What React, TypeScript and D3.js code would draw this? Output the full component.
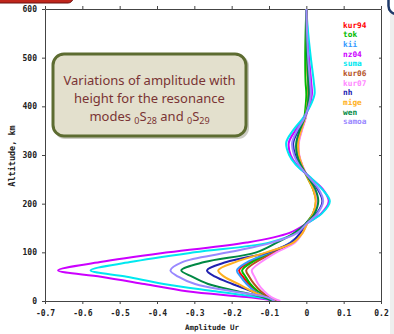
import { useEffect, useRef } from "react";
import * as d3 from "d3";

// altitude (km) of each sample, shared by all stations
const altitudes = [0, 8, 20, 35, 50, 63, 80, 100, 120, 140, 160, 180, 205, 230, 255, 280, 300, 325, 350, 375, 400, 425, 450, 500, 550, 600];

const stations = ["kur94", "tok", "kii", "nz04", "suma", "kur06", "kur07", "nh", "mige", "wen", "samoa"];
const stationColors = ["#ff0000", "#00bb00", "#3399ff", "#cc00ff", "#00e8f0", "#b5531f", "#ff88ff", "#2020b0", "#ffb020", "#008844", "#9988ff"];

// amplitude Ur per station
const kur94 = [-0.078, -0.103, -0.133, -0.155, -0.17, -0.18, -0.152, -0.093, -0.042, -0.014, 0.001, 0.02, 0.028, 0.02, 0.003, -0.013, -0.021, -0.023, -0.014, -0.003, 0.003, 0.007, 0.005, 0.003, 0.001, 0];
const tok = [-0.08, -0.105, -0.13, -0.15, -0.163, -0.172, -0.145, -0.09, -0.04, -0.013, 0.0, 0.018, 0.026, 0.018, 0.002, -0.014, -0.022, -0.024, -0.016, -0.006, -0.002, 0.0, -0.002, -0.003, -0.002, 0];
const kii = [-0.08, -0.107, -0.138, -0.16, -0.176, -0.186, -0.158, -0.097, -0.043, -0.015, 0.002, 0.022, 0.03, 0.022, 0.004, -0.014, -0.022, -0.024, -0.015, -0.003, 0.004, 0.008, 0.006, 0.003, 0.001, 0];
const nz04 = [-0.075, -0.16, -0.32, -0.434, -0.55, -0.665, -0.552, -0.37, -0.16, -0.045, 0.002, 0.04, 0.06, 0.044, 0.008, -0.026, -0.042, -0.047, -0.03, -0.008, 0.008, 0.015, 0.013, 0.007, 0.003, 0];
const suma = [-0.08, -0.13, -0.244, -0.382, -0.481, -0.578, -0.472, -0.3, -0.1, -0.028, 0.003, 0.042, 0.063, 0.042, 0.01, -0.028, -0.046, -0.054, -0.036, -0.01, 0.01, 0.022, 0.02, 0.012, 0.005, 0];
const kur06 = [-0.075, -0.1, -0.122, -0.14, -0.153, -0.161, -0.135, -0.085, -0.035, -0.012, 0.002, 0.019, 0.027, 0.019, 0.003, -0.012, -0.02, -0.021, -0.013, -0.003, 0.003, 0.006, 0.005, 0.002, 0.001, 0];
const kur07 = [-0.07, -0.094, -0.113, -0.129, -0.139, -0.146, -0.121, -0.08, -0.03, -0.01, 0.003, 0.02, 0.028, 0.021, 0.004, -0.011, -0.019, -0.02, -0.012, -0.002, 0.004, 0.008, 0.006, 0.003, 0.001, 0];
const nh = [-0.09, -0.11, -0.147, -0.198, -0.244, -0.266, -0.214, -0.102, -0.04, -0.016, 0.0, 0.028, 0.043, 0.03, 0.005, -0.018, -0.03, -0.035, -0.022, -0.005, 0.005, 0.01, 0.008, 0.004, 0.001, 0];
const mige = [-0.085, -0.11, -0.145, -0.182, -0.22, -0.236, -0.19, -0.107, -0.035, -0.01, 0.003, 0.018, 0.025, 0.018, 0.002, -0.012, -0.02, -0.022, -0.014, -0.004, 0.002, 0.005, 0.004, 0.002, 0.001, 0];
const wen = [-0.09, -0.118, -0.185, -0.263, -0.306, -0.335, -0.273, -0.134, -0.079, -0.032, 0, 0.022, 0.032, 0.024, 0.004, -0.015, -0.025, -0.027, -0.018, -0.005, 0.003, 0.006, 0.005, 0.002, 0.0, 0];
const samoa = [-0.085, -0.107, -0.198, -0.298, -0.343, -0.364, -0.332, -0.209, -0.092, -0.024, 0.002, 0.03, 0.045, 0.033, 0.006, -0.02, -0.033, -0.038, -0.025, -0.006, 0.006, 0.012, 0.01, 0.005, 0.002, 0];

const seriesValues = [kur94, tok, kii, nz04, suma, kur06, kur07, nh, mige, wen, samoa];

const xTicks = [-0.7, -0.6, -0.5, -0.4, -0.3, -0.2, -0.1, 0, 0.1, 0.2];
const yTicks = [0, 100, 200, 300, 400, 500, 600];

const MONO = "'DejaVu Sans Mono', monospace";

export default function App() {
  const svgRef = useRef<SVGSVGElement>(null);

  useEffect(() => {
    if (!svgRef.current) return;
    const width = 394;
    const height = 334;
    const margin = { top: 9, right: 13, bottom: 33, left: 45 };

    const svg = d3.select(svgRef.current);
    svg.selectAll("*").remove();

    // page decorations cut by the frame
    svg.append("rect").attr("width", width).attr("height", height).attr("fill", "#ffffff");
    svg.append("rect").attr("x", 390).attr("y", 12).attr("width", 4).attr("height", 322).attr("fill", "#eeeeee");
    svg
      .append("rect")
      .attr("x", -6)
      .attr("y", -20)
      .attr("width", 79)
      .attr("height", 23)
      .attr("rx", 5)
      .attr("fill", "#c0261c")
      .attr("stroke", "#6b1010")
      .attr("stroke-width", 1);
    svg
      .append("rect")
      .attr("x", 388.5)
      .attr("y", -20)
      .attr("width", 30)
      .attr("height", 34)
      .attr("rx", 8)
      .attr("fill", "#ffffff")
      .attr("stroke", "#1f3a6a")
      .attr("stroke-width", 2.5);

    const x = d3.scaleLinear().domain([-0.7, 0.2]).range([margin.left, width - margin.right]);
    const y = d3.scaleLinear().domain([0, 600]).range([height - margin.bottom, margin.top]);

    const fmt = (d: number) => (d === 0 ? "0" : d.toFixed(1));

    const styleAxis = (g: any) => {
      g.selectAll("path").attr("stroke", "#444").attr("stroke-width", 1);
      g.selectAll("line").attr("stroke", "#444");
      g.selectAll("text")
        .attr("font-family", MONO)
        .attr("font-weight", "bold")
        .attr("font-size", 8)
        .attr("fill", "#222");
    };

    // Bottom axis
    svg
      .append("g")
      .attr("transform", `translate(0,${y(0)})`)
      .call(d3.axisBottom(x).tickValues(xTicks).tickSize(3).tickSizeOuter(0).tickPadding(6).tickFormat(fmt as any))
      .call(styleAxis);

    // Left axis
    svg
      .append("g")
      .attr("transform", `translate(${x(-0.7)},0)`)
      .call(d3.axisLeft(y).tickValues(yTicks).tickSize(3).tickSizeOuter(0).tickPadding(5))
      .call(styleAxis);

    // Top axis, ticks only
    svg
      .append("g")
      .attr("transform", `translate(0,${y(600)})`)
      .call(d3.axisTop(x).tickValues(xTicks).tickSize(3).tickSizeOuter(0).tickFormat(() => ""))
      .call(styleAxis);

    // Right axis, inner ticks only
    svg
      .append("g")
      .attr("transform", `translate(${x(0.2)},0)`)
      .call(d3.axisRight(y).tickValues(yTicks).tickSize(-2).tickSizeOuter(0).tickFormat(() => ""))
      .call(styleAxis);

    // Axis labels
    svg
      .append("text")
      .attr("x", 212)
      .attr("y", 330)
      .attr("text-anchor", "middle")
      .attr("font-family", MONO)
      .attr("font-weight", "bold")
      .attr("font-size", 7.5)
      .attr("fill", "#222")
      .text("Amplitude Ur");

    svg
      .append("text")
      .attr("transform", "translate(15,156) rotate(-90)")
      .attr("text-anchor", "middle")
      .attr("font-family", MONO)
      .attr("font-weight", "bold")
      .attr("font-size", 8.5)
      .attr("fill", "#222")
      .text("Altitude, km");

    // Curves
    svg
      .append("clipPath")
      .attr("id", "plotclip")
      .append("rect")
      .attr("x", margin.left)
      .attr("y", margin.top)
      .attr("width", width - margin.left - margin.right)
      .attr("height", height - margin.top - margin.bottom);

    const line = d3
      .line<number>()
      .x((d) => x(d))
      .y((_, i) => y(altitudes[i]))
      .curve(d3.curveCatmullRom.alpha(0.5));

    const curves = svg.append("g").attr("clip-path", "url(#plotclip)");
    seriesValues.forEach((vals, i) => {
      curves
        .append("path")
        .datum(vals)
        .attr("fill", "none")
        .attr("stroke", stationColors[i])
        .attr("stroke-width", 2)
        .attr("stroke-linejoin", "round")
        .attr("d", line as any);
    });

    // Legend
    stations.forEach((name, i) => {
      svg
        .append("text")
        .attr("x", 343)
        .attr("y", 25 + i * 9.67)
        .attr("dy", "0.35em")
        .attr("font-family", MONO)
        .attr("font-weight", "bold")
        .attr("font-size", 7.8)
        .attr("fill", stationColors[i])
        .text(name);
    });

    // Annotation box
    const note = svg.append("g");
    note
      .append("rect")
      .attr("x", 54)
      .attr("y", 55)
      .attr("width", 195)
      .attr("height", 84)
      .attr("rx", 11)
      .attr("fill", "#9a9a8a")
      .attr("opacity", 0.5);
    note
      .append("rect")
      .attr("x", 53)
      .attr("y", 54)
      .attr("width", 193)
      .attr("height", 82)
      .attr("rx", 11)
      .attr("fill", "#e3e0cd")
      .attr("stroke", "#5d6c31")
      .attr("stroke-width", 3);

    const noteText = (yy: number) =>
      note
        .append("text")
        .attr("x", 149.5)
        .attr("y", yy)
        .attr("text-anchor", "middle")
        .attr("font-family", "'Noto Sans', sans-serif")
        .attr("font-size", 13)
        .attr("fill", "#7a3434");

    noteText(84.5).text("Variations of amplitude with");
    noteText(102.5).text("height for the resonance");
    const l3 = noteText(120.5);
    l3.append("tspan").text("modes ");
    l3.append("tspan").attr("font-size", 9).attr("dy", 3).text("0");
    l3.append("tspan").attr("dy", -3).text("S");
    l3.append("tspan").attr("font-size", 9).attr("dy", 3).text("28");
    l3.append("tspan").attr("dy", -3).text(" and ");
    l3.append("tspan").attr("font-size", 9).attr("dy", 3).text("0");
    l3.append("tspan").attr("dy", -3).text("S");
    l3.append("tspan").attr("font-size", 9).attr("dy", 3).text("29");
  }, []);

  return (
    <svg
      ref={svgRef}
      width={394}
      height={334}
      style={{ position: "absolute", left: 0, top: 0 }}
    ></svg>
  );
}
